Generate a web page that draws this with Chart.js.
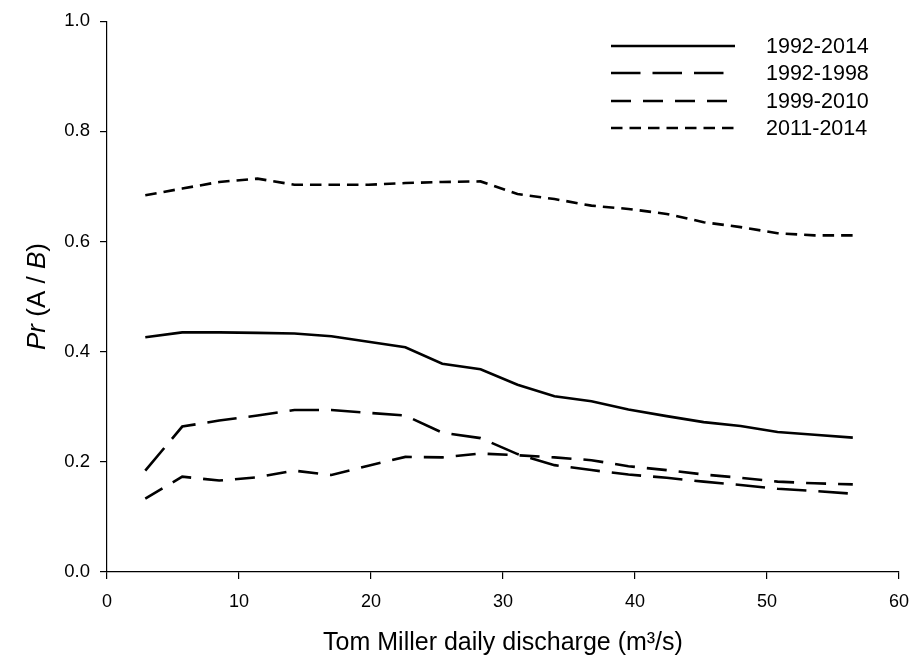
<!DOCTYPE html>
<html lang="en">
<head>
  <meta charset="UTF-8" />
  <title>Pr(A/B) vs Tom Miller discharge</title>
  <script src="https://cdn.jsdelivr.net/npm/chart.js"></script>
  <style>
    * { box-sizing: border-box; }
    body { margin: 0; background: #ffffff; }
    .wrap { width: 920px; height: 660px; position: relative; }
  </style>
</head>
<body>
  <div class="wrap">
    <canvas id="grafico"></canvas>
  </div>

  <script>
    // discharge (m3/s) at each estimate
    const discharge = [2.9, 5.7, 8.5, 11.4, 14.2, 17.0, 19.8, 22.6, 25.4, 28.3,
                       31.1, 33.9, 36.7, 39.5, 42.4, 45.2, 48.0, 50.8, 53.6, 56.5];

    const serie9214 = [0.426, 0.435, 0.435, 0.434, 0.433, 0.428, 0.418, 0.408, 0.378, 0.368,
                       0.340, 0.319, 0.310, 0.295, 0.283, 0.272, 0.265, 0.254, 0.249, 0.244];
    const serie9298 = [0.184, 0.264, 0.275, 0.284, 0.294, 0.294, 0.289, 0.284, 0.253, 0.243,
                       0.214, 0.194, 0.185, 0.177, 0.171, 0.164, 0.158, 0.151, 0.147, 0.142];
    const serie9910 = [0.133, 0.173, 0.166, 0.172, 0.184, 0.176, 0.193, 0.209, 0.208, 0.215,
                       0.212, 0.208, 0.203, 0.192, 0.185, 0.177, 0.171, 0.164, 0.161, 0.159];
    const serie1114 = [0.684, 0.696, 0.708, 0.714, 0.703, 0.703, 0.703, 0.706, 0.708, 0.709,
                       0.686, 0.677, 0.665, 0.659, 0.650, 0.635, 0.626, 0.615, 0.611, 0.611];

    const nomes = ['1992-2014', '1992-1998', '1999-2010', '2011-2014'];
    const tracos = [[], [29.5, 12], [20, 12], [11.5, 7]];

    const fonte = "'Liberation Sans', Arial, sans-serif";

    function pontos(ys) {
      return discharge.map((x, i) => ({ x: x, y: ys[i] }));
    }

    // legend drawn inside the plot, top right, like the original figure
    const legendaInterna = {
      id: 'legendaInterna',
      afterDraw(chart) {
        const ctx = chart.ctx;
        const x0 = 611, x1 = 735, xt = 766;
        const ys = [46, 73, 101, 128];
        ctx.save();
        chart.data.datasets.forEach((ds, i) => {
          ctx.beginPath();
          ctx.setLineDash(ds.borderDash || []);
          ctx.lineWidth = ds.borderWidth;
          ctx.strokeStyle = '#000';
          ctx.lineCap = 'butt';
          ctx.moveTo(x0, ys[i]);
          ctx.lineTo(x1, ys[i]);
          ctx.stroke();
          ctx.setLineDash([]);
          ctx.fillStyle = '#000';
          ctx.font = '21.5px ' + fonte;
          ctx.textBaseline = 'middle';
          ctx.textAlign = 'left';
          ctx.fillText(ds.label, xt, ys[i] + 1);
        });
        ctx.restore();
      }
    };

    // y title with italic Pr and B
    const tituloY = {
      id: 'tituloY',
      afterDraw(chart) {
        const ctx = chart.ctx;
        const partes = [
          ['Pr', true], [' (A / ', false], ['B', true], [')', false]
        ];
        const normal = '26px ' + fonte;
        const italico = 'italic 26px ' + fonte;
        ctx.save();
        let total = 0;
        partes.forEach(p => { ctx.font = p[1] ? italico : normal; total += ctx.measureText(p[0]).width; });
        const area = chart.chartArea;
        ctx.translate(38, (area.top + area.bottom) / 2);
        ctx.rotate(-Math.PI / 2);
        ctx.fillStyle = '#000';
        ctx.textBaseline = 'middle';
        ctx.textAlign = 'left';
        let x = -total / 2;
        partes.forEach(p => {
          ctx.font = p[1] ? italico : normal;
          ctx.fillText(p[0], x, 0);
          x += ctx.measureText(p[0]).width;
        });
        ctx.restore();
      }
    };

    const ctx = document.getElementById('grafico').getContext('2d');
    new Chart(ctx, {
      type: 'line',
      data: {
        datasets: [serie9214, serie9298, serie9910, serie1114].map((s, i) => ({
          label: nomes[i],
          data: pontos(s),
          borderColor: '#000',
          backgroundColor: '#000',
          borderWidth: 2.6,
          borderDash: tracos[i],
          borderCapStyle: 'butt',
          pointRadius: 0,
          tension: 0,
          fill: false
        }))
      },
      options: {
        responsive: true,
        maintainAspectRatio: false,
        animation: false,
        layout: { padding: { top: 17, right: 21, left: 0, bottom: 0 } },
        plugins: {
          legend: { display: false },
          tooltip: { enabled: false }
        },
        scales: {
          x: {
            type: 'linear',
            min: 0, max: 60,
            afterFit(scale) {
              scale.height = 88;
              scale.paddingLeft = 0;
              scale.paddingRight = 0;
            },
            ticks: { stepSize: 10, color: '#000', padding: 12, font: { family: fonte, size: 18 } },
            grid: { drawOnChartArea: false, color: '#000', tickLength: 7, lineWidth: 1.2 },
            border: { color: '#000', width: 1.2 },
            title: {
              display: true,
              text: 'Tom Miller daily discharge (m³/s)',
              color: '#000',
              font: { family: fonte, size: 25, lineHeight: 1.2 },
              padding: { top: 0, bottom: 2 }
            }
          },
          y: {
            min: 0, max: 1,
            afterFit(scale) { scale.width = 107; },
            ticks: {
              stepSize: 0.2, color: '#000', padding: 10,
              font: { family: fonte, size: 18.5 },
              callback: v => v.toFixed(1)
            },
            grid: { drawOnChartArea: false, color: '#000', tickLength: 7, lineWidth: 1.2 },
            border: { color: '#000', width: 1.2 }
          }
        }
      },
      plugins: [legendaInterna, tituloY]
    });
  </script>
</body>
</html>
